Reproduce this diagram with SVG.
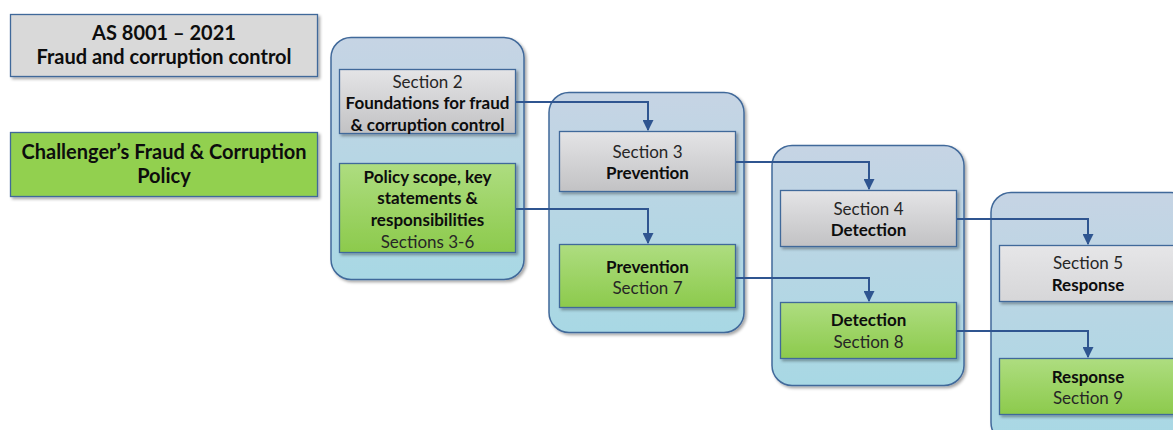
<svg xmlns="http://www.w3.org/2000/svg" width="1173" height="430" viewBox="0 0 1173 430">
<defs>
<linearGradient id="gCont" x1="0" y1="0" x2="0" y2="1">
<stop offset="0" stop-color="#c6d4e4"/>
<stop offset="1" stop-color="#a8d8e4"/>
</linearGradient>
<linearGradient id="gGrey" x1="0" y1="0" x2="0" y2="1">
<stop offset="0" stop-color="#e4e4e6"/>
<stop offset="1" stop-color="#c2c2c4"/>
</linearGradient>
<linearGradient id="gGrey2" x1="0" y1="0" x2="0" y2="1">
<stop offset="0" stop-color="#e6e6e8"/>
<stop offset="1" stop-color="#d6d6d8"/>
</linearGradient>
<linearGradient id="gGreen" x1="0" y1="0" x2="0" y2="1">
<stop offset="0" stop-color="#aedd80"/>
<stop offset="1" stop-color="#8cca4c"/>
</linearGradient>
<filter id="sh" x="-10%" y="-10%" width="130%" height="130%">
<feDropShadow dx="2" dy="2" stdDeviation="1.5" flood-color="#000" flood-opacity="0.35"/>
</filter>
<marker id="arr" viewBox="0 0 10 10" refX="9" refY="5" markerWidth="5.5" markerHeight="5.5" orient="auto">
<path d="M0,0 L10,5 L0,10 z" fill="#2f5590"/>
</marker>
</defs>
<style>
.cont{fill:url(#gCont);stroke:#41699a;stroke-width:1.5;filter:url(#sh)}
.grey{fill:url(#gGrey);stroke:#41699a;stroke-width:1.3;filter:url(#sh)}
.grey2{fill:url(#gGrey2);stroke:#41699a;stroke-width:1.3;filter:url(#sh)}
.green{fill:url(#gGreen);stroke:#41699a;stroke-width:1.3;filter:url(#sh)}
.lgrey{fill:#d9d9d9;stroke:#41699a;stroke-width:1.3;filter:url(#sh)}
.lgreen{fill:#92d050;stroke:#41699a;stroke-width:1.3;filter:url(#sh)}
text{font-family:Lato,"Open Sans","Liberation Sans",sans-serif;font-size:17px;fill:#262626;text-anchor:middle}
.b{font-weight:bold;fill:#0d0d0d}
.lg{font-size:20px;font-weight:bold;fill:#0d0d0d}
.conn{fill:none;stroke:#2f5590;stroke-width:2;marker-end:url(#arr)}
</style>
<rect width="1173" height="430" fill="#ffffff"/>

<g id="legend-as8001">
<rect class="lgrey" x="10.5" y="14.5" width="307" height="62"/>
<text class="lg" x="164" y="40">AS 8001 – 2021</text>
<text class="lg" x="164" y="64">Fraud and corruption control</text>
</g>
<g id="legend-challenger">
<rect class="lgreen" x="10.5" y="132.5" width="307" height="64"/>
<text class="lg" x="164" y="159">Challenger’s Fraud &amp; Corruption</text>
<text class="lg" x="164" y="183">Policy</text>
</g>

<g id="container-1"><rect class="cont" x="331" y="37.5" width="193" height="242" rx="20"/></g>
<g id="container-2"><rect class="cont" x="549" y="92.5" width="195" height="240" rx="20"/></g>
<g id="container-3"><rect class="cont" x="772" y="145.5" width="192" height="240" rx="20"/></g>
<g id="container-4"><rect class="cont" x="991" y="192.5" width="200" height="250" rx="20"/></g>

<g id="section-2">
<rect class="grey" x="339.5" y="69.5" width="176" height="64"/>
<text x="427.5" y="88">Section 2</text>
<text class="b" x="427.5" y="109">Foundations for fraud</text>
<text class="b" x="427.5" y="131">&amp; corruption control</text>
</g>
<g id="policy-scope">
<rect class="green" x="339.5" y="163.5" width="176" height="89"/>
<text class="b" x="427.5" y="183">Policy scope, key</text>
<text class="b" x="427.5" y="204">statements &amp;</text>
<text class="b" x="427.5" y="226">responsibilities</text>
<text x="427.5" y="248">Sections 3-6</text>
</g>

<g id="section-3">
<rect class="grey" x="559.5" y="131.5" width="176" height="60"/>
<text x="647.5" y="158">Section 3</text>
<text class="b" x="647.5" y="179">Prevention</text>
</g>
<g id="prevention">
<rect class="green" x="559.5" y="244.5" width="176" height="63"/>
<text class="b" x="647.5" y="273">Prevention</text>
<text x="647.5" y="294">Section 7</text>
</g>

<g id="section-4">
<rect class="grey" x="780.5" y="190.5" width="176" height="56"/>
<text x="868.5" y="215">Section 4</text>
<text class="b" x="868.5" y="236">Detection</text>
</g>
<g id="detection">
<rect class="green" x="780.5" y="302.5" width="176" height="56"/>
<text class="b" x="868.5" y="326">Detection</text>
<text x="868.5" y="348">Section 8</text>
</g>

<g id="section-5">
<rect class="grey2" x="999.5" y="245.5" width="180" height="56"/>
<text x="1088" y="269">Section 5</text>
<text class="b" x="1088" y="291">Response</text>
</g>
<g id="response">
<rect class="green" x="999.5" y="358.5" width="180" height="56"/>
<text class="b" x="1088" y="383">Response</text>
<text x="1088" y="404">Section 9</text>
</g>

<g id="connectors">
<path class="conn" d="M516,102 H648 V130"/>
<path class="conn" d="M516,209 H648 V243"/>
<path class="conn" d="M736,162 H869 V189"/>
<path class="conn" d="M736,278 H869 V301"/>
<path class="conn" d="M957,219 H1088 V244"/>
<path class="conn" d="M957,331 H1088 V357"/>
</g>
</svg>
